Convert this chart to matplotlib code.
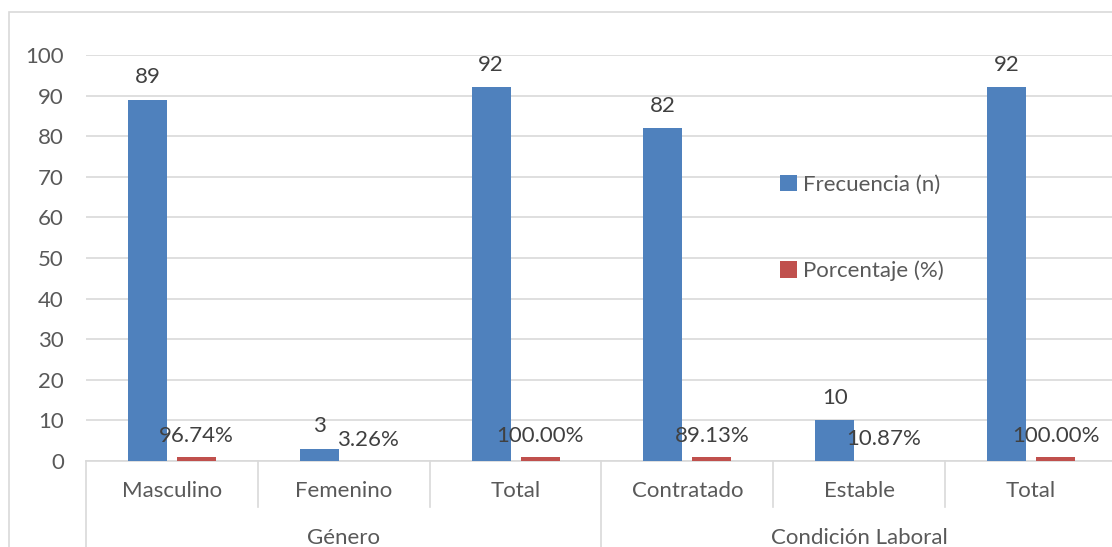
import matplotlib.pyplot as plt
import matplotlib.transforms as mtransforms
from matplotlib.patches import Rectangle
import numpy as np

plt.rcParams['font.family'] = ['Lato', 'DejaVu Sans']

# data
categories = ['Masculino', 'Femenino', 'Total', 'Contratado', 'Estable', 'Total']
groups = ['Género', 'Condición Laboral']
group_sizes = [3, 3]
frecuencia = [89, 3, 92, 82, 10, 92]
porcentaje = [96.74, 3.26, 100.00, 89.13, 10.87, 100.00]

blue = '#4F81BD'
red = '#C0504D'
text_col = '#595959'
grid_col = '#D9D9D9'
fs = 16

W, H = 1112, 547
fig = plt.figure(figsize=(W / 100, H / 100), dpi=100)

# outer chart border
fig.patches.append(Rectangle((9 / W, -0.02), 1.05, (H - 12) / H + 0.02,
                             transform=fig.transFigure, fill=False,
                             edgecolor=grid_col, linewidth=1.2))

left, right = 86 / W, 1117 / W
bottom, top = (H - 461) / H, (H - 55) / H
ax = fig.add_axes([left, bottom, right - left, top - bottom])

x = np.arange(len(categories))
bw = 0.227
off = 0.143
b1 = ax.bar(x - off, frecuencia, bw, color=blue, label='Frecuencia (n)', zorder=3)
b2 = ax.bar(x + off, np.array(porcentaje) / 100, bw, color=red,
            label='Porcentaje (%)', zorder=3)

for xi, v in zip(x - off, frecuencia):
    ax.annotate(f'{v}', (xi, v), xytext=(0, 9), textcoords='offset points',
                ha='center', va='bottom', fontsize=fs, color='#404040')
for xi, p in zip(x + off, porcentaje):
    ax.annotate(f'{p:.2f}%', (xi, p / 100), xytext=(0, 8), textcoords='offset points',
                ha='center', va='bottom', fontsize=fs, color='#404040')

ax.set_xlim(-0.5, len(categories) - 0.5)
ax.set_ylim(0, 100)
ax.set_yticks(range(0, 101, 10))
ax.tick_params(axis='y', length=0, pad=16, labelsize=fs, labelcolor=text_col)
ax.set_xticks([])
ax.grid(axis='y', color=grid_col, linewidth=1.2, zorder=0)
for s in ['top', 'right', 'left']:
    ax.spines[s].set_visible(False)
ax.spines['bottom'].set_color(grid_col)
ax.spines['bottom'].set_linewidth(1.2)

# two-level category axis
tr = mtransforms.blended_transform_factory(ax.transData, ax.transAxes)
for i, c in enumerate(categories):
    ax.text(i, -0.074, c, transform=tr, ha='center', va='center',
            fontsize=fs, color=text_col)
start = 0
bounds = [-0.5]
for g, n in zip(groups, group_sizes):
    ax.text(start + (n - 1) / 2, -0.19, g, transform=tr, ha='center', va='center',
            fontsize=fs, color=text_col)
    start += n
    bounds.append(start - 0.5)
for i in range(len(categories) + 1):
    xb = i - 0.5
    y_end = -0.3 if xb in bounds else -0.113
    ax.plot([xb, xb], [0, y_end], transform=tr, color=grid_col,
            linewidth=1.2, clip_on=False)

ax.legend(handles=[b1, b2], loc='upper left', bbox_to_anchor=(760 / W, (H - 155) / H),
          bbox_transform=fig.transFigure, frameon=False, fontsize=fs,
          labelcolor=text_col, handlelength=0.75, handleheight=0.75,
          handletextpad=0.3, labelspacing=2.95)

plt.savefig('out.png', dpi=100)
